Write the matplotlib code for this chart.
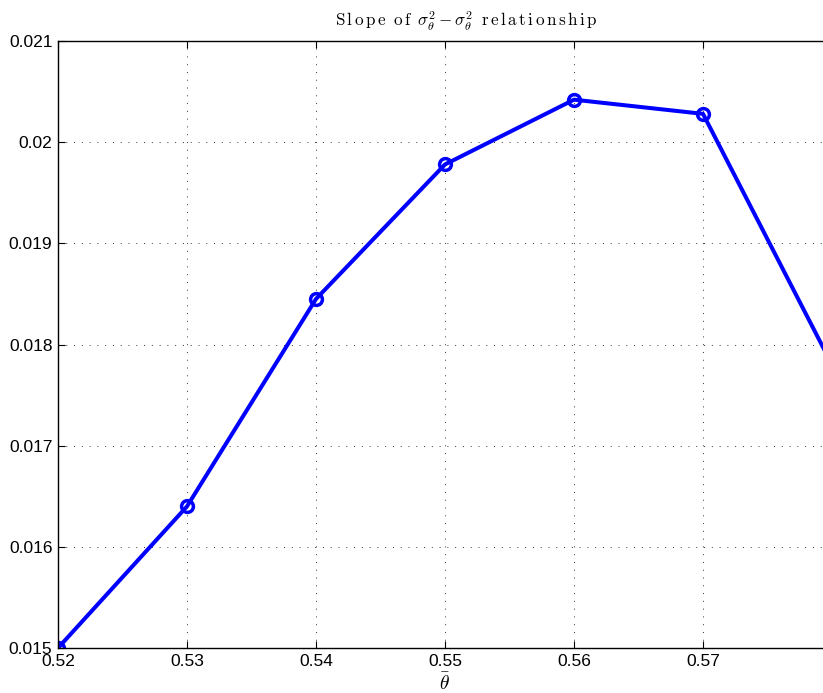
import matplotlib
matplotlib.use("Agg")
import matplotlib.pyplot as plt

theta_bar = [0.52, 0.53, 0.54, 0.55, 0.56, 0.57, 0.58]
slope = [0.0150, 0.0164, 0.01845, 0.01978, 0.02042, 0.02028, 0.0178]
xticks = [0.52, 0.53, 0.54, 0.55, 0.56, 0.57]
yticks = [0.015, 0.016, 0.017, 0.018, 0.019, 0.020, 0.021]
ytick_labels = ["0.015", "0.016", "0.017", "0.018", "0.019", "0.02", "0.021"]

plt.rcParams['font.family'] = ['Liberation Sans', 'DejaVu Sans']
plt.rcParams['mathtext.fontset'] = 'cm'

fig = plt.figure(figsize=(8.23, 6.93), dpi=100)
# axes runs past the right edge of the picture, like the cropped original
ax = fig.add_axes([58 / 823, 45 / 693, 774 / 823, 607 / 693])
ax.plot(theta_bar, slope, color=(0, 0, 1), linewidth=2.9, marker='o',
        markersize=8.5, markerfacecolor='none', markeredgewidth=2.5)

ax.set_xlim(0.52, 0.58)
ax.set_ylim(0.015, 0.021)
ax.set_xticks(xticks)
ax.set_xticklabels(["%.2f" % v for v in xticks])
ax.set_yticks(yticks)
ax.set_yticklabels(ytick_labels)
ax.tick_params(direction='in', length=5, width=0.8, labelsize=12.5,
               top=True, right=True, pad=4)
ax.grid(True, linestyle=(0, (1, 7)), color='#333333', linewidth=0.7)
for s in ax.spines.values():
    s.set_linewidth(1.0)

ax.set_title(r"$\mathrm{S\,l\,o\,p\,e\;\;o\,f}\;\;\sigma_\theta^2 - \sigma_\theta^2\;\;"
             r"\mathrm{r\,e\,l\,a\,t\,i\,o\,n\,s\,h\,i\,p}$",
             fontsize=12.3, pad=10, x=(466 - 58) / 774)
ax.set_xlabel(r"$\bar{\theta}$", fontsize=14, labelpad=3)

fig.savefig("out.png", dpi=100)
